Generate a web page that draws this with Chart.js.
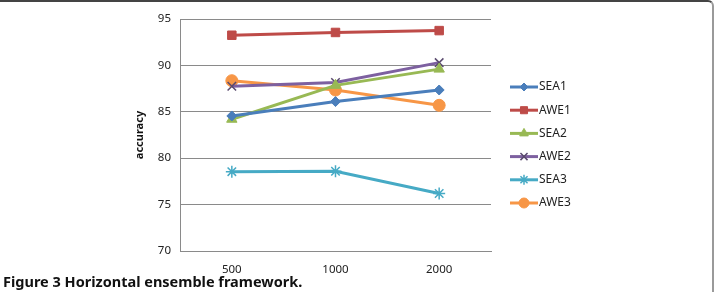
<!DOCTYPE html>
<html>
<head>
<meta charset="utf-8">
<script src="https://cdn.jsdelivr.net/npm/chart.js@4/dist/chart.umd.min.js"></script>
<style>
  body { margin: 0; background: #fff; font-family: "Noto Sans", sans-serif; }
  #wrap { position: relative; width: 716px; height: 292px; overflow: hidden; }
  #frame { position: absolute; left: -10px; top: 0; width: 722px; height: 310px;
           border-top: 2px solid #444; border-right: 2px solid #9a9a9a; border-top-right-radius: 6px; }
  #chart { position: absolute; left: 0; top: 0; }
  #caption { position: absolute; left: 3px; top: 271px; font-size: 14.5px; font-weight: bold; color: #111; }
</style>
</head>
<body>
<div id="wrap">
  <div id="frame"></div>
  <canvas id="chart" width="716" height="292"></canvas>
  <div id="caption">Figure 3 Horizontal ensemble framework.</div>
</div>
<script>
const sizes = ['500', '1000', '2000'];
const sea1 = [84.55, 86.1, 87.35];
const awe1 = [93.25, 93.55, 93.75];
const sea2 = [84.2, 87.85, 89.6];
const awe2 = [87.75, 88.15, 90.3];
const sea3 = [78.55, 78.6, 76.2];
const awe3 = [88.35, 87.35, 85.7];
const yTicks = [70, 75, 80, 85, 90, 95];

function series(label, data, color, pointStyle, radius) {
    return {
        label: label,
        data: data,
        borderColor: color,
        backgroundColor: color,
        borderWidth: 3,
        pointStyle: pointStyle,
        pointRadius: radius,
        pointBorderWidth: pointStyle === 'crossRot' || pointStyle === 'star' ? 1.5 : 1,
        pointBorderColor: pointStyle === 'crossRot' ? '#5a4a6e' : color,
        tension: 0
    };
}

// legend drawn to the right: short line with the marker in its middle
const sideLegend = {
    id: 'sideLegend',
    afterDraw(chart) {
        const ctx = chart.ctx;
        const area = chart.chartArea;
        const x0 = area.right + 19, x1 = area.right + 47;
        chart.data.datasets.forEach((ds, i) => {
            const y = 87 + i * 23.2;
            ctx.save();
            ctx.strokeStyle = ds.borderColor;
            ctx.lineWidth = 3;
            ctx.beginPath();
            ctx.moveTo(x0, y);
            ctx.lineTo(x1, y);
            ctx.stroke();
            ctx.fillStyle = ds.backgroundColor;
            ctx.strokeStyle = ds.pointBorderColor;
            ctx.lineWidth = ds.pointBorderWidth;
            Chart.helpers.drawPoint(ctx, {
                pointStyle: ds.pointStyle, rotation: 0,
                radius: ds.pointRadius - 1, borderWidth: ds.pointBorderWidth
            }, (x0 + x1) / 2, y);
            ctx.fillStyle = '#222';
            ctx.font = '12px "Noto Sans"';
            ctx.textBaseline = 'middle';
            ctx.textAlign = 'left';
            ctx.fillText(ds.label, x1 + 1, y);
            ctx.restore();
        });
    }
};

new Chart(document.getElementById('chart').getContext('2d'), {
    type: 'line',
    data: {
        labels: sizes,
        datasets: [
            series('SEA1', sea1, '#4a7ebb', 'rectRot', 5),
            series('AWE1', awe1, '#be4b48', 'rect', 6),
            series('SEA2', sea2, '#98b954', 'triangle', 6),
            series('AWE2', awe2, '#7d60a0', 'crossRot', 6),
            series('SEA3', sea3, '#46aac5', 'star', 6),
            series('AWE3', awe3, '#f79646', 'circle', 6)
        ]
    },
    options: {
        responsive: false,
        animation: false,
        layout: { padding: { left: 129, right: 225, top: 19, bottom: 0 } },
        plugins: { legend: { display: false }, tooltip: { enabled: false } },
        scales: {
            x: {
                offset: true,
                grid: { display: false },
                border: { color: '#8a8a8a' },
                ticks: { color: '#222', font: { family: 'Noto Sans', size: 11.5 }, padding: 4 },
                afterFit(s) { s.height = 41; }
            },
            y: {
                min: 70,
                max: 95,
                afterBuildTicks(s) { s.ticks = yTicks.map(v => ({ value: v })); },
                grid: { color: '#8a8a8a', drawTicks: false },
                border: { color: '#8a8a8a' },
                ticks: { color: '#222', font: { family: 'Noto Sans', size: 11.5 }, padding: 9 },
                title: { display: true, text: 'accuracy', color: '#111', font: { family: 'Noto Sans', size: 11, weight: 'bold' }, padding: 4 },
                afterFit(s) { s.width = 51; }
            }
        }
    },
    plugins: [sideLegend]
});
</script>
</body>
</html>
